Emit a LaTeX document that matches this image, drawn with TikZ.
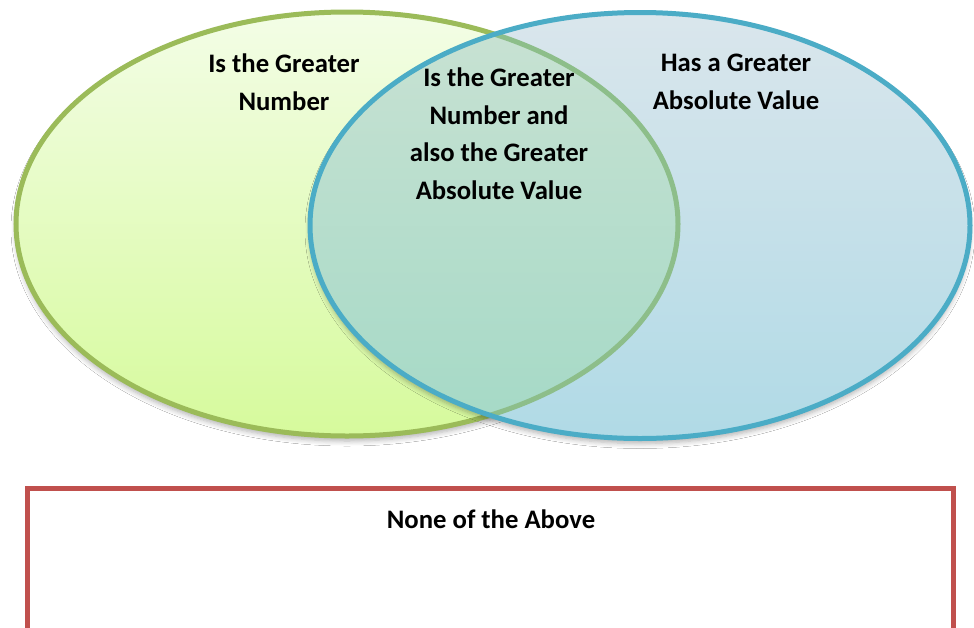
\documentclass[tikz,border=0pt]{standalone}
\usepackage{fontspec}
\setmainfont{Carlito}
\usetikzlibrary{shadows.blur}
\definecolor{gborder}{HTML}{9BBB59}
\definecolor{gtop}{HTML}{F3FDE6}
\definecolor{gbot}{HTML}{D6FA9C}
\definecolor{bborder}{HTML}{4BACC6}
\definecolor{btop}{HTML}{DAE6EC}
\definecolor{bbot}{HTML}{B0DAE6}
\definecolor{itop}{HTML}{C9E2D3}
\definecolor{ibot}{HTML}{A4D9C6}
\definecolor{gmuted}{HTML}{8DBE8A}
\definecolor{redb}{HTML}{C0504D}
\tikzset{
  lbl/.style={align=center, font=\fontsize{26.7}{37.5}\selectfont\bfseries, inner sep=0pt},
  shad/.style={blur shadow={shadow xshift=0pt, shadow yshift=-5pt, shadow blur steps=6, shadow opacity=30, shadow blur radius=5pt}},
}
\begin{document}
\begin{tikzpicture}[x=1pt,y=-1pt]
\clip (0,0) rectangle (974,627);
\useasboundingbox (0,0) rectangle (974,627);
\fill[white] (0,0) rectangle (974,627);
% left (green) ellipse
\path[shad, top color=gtop, bottom color=gbot] (347,224) ellipse [x radius=331pt, y radius=212pt];
\draw[gborder, line width=5pt] (347,224) ellipse [x radius=331pt, y radius=212pt];
% right (blue) ellipse
\path[shad, top color=btop, bottom color=bbot] (640,225.5) ellipse [x radius=330pt, y radius=213pt];
\begin{scope}
  \clip (347,224) ellipse [x radius=331pt, y radius=212pt];
  \path[top color=itop, bottom color=ibot] (640,225.5) ellipse [x radius=330pt, y radius=213pt];
\end{scope}
\begin{scope}
  \clip (640,225.5) ellipse [x radius=330pt, y radius=213pt];
  \draw[gmuted, line width=5pt] (347,224) ellipse [x radius=331pt, y radius=212pt];
\end{scope}
\draw[bborder, line width=5pt] (640,225.5) ellipse [x radius=330pt, y radius=213pt];
% labels
\node[lbl] (left) at (284,82) {Is the Greater\\Number};
\node[lbl] (mid) at (499,133.5) {Is the Greater\\Number and\\also the Greater\\Absolute Value};
\node[lbl] (right) at (736,82) {Has a Greater\\Absolute Value};
% none box
\node[draw=redb, line width=5pt, fill=white, minimum width=926pt, minimum height=160pt, inner sep=0pt, outer sep=0pt, anchor=north west] (box) at (27.5,488.5) {};
\node[lbl] (none) at (491,519) {None of the Above};
\end{tikzpicture}
\end{document}
